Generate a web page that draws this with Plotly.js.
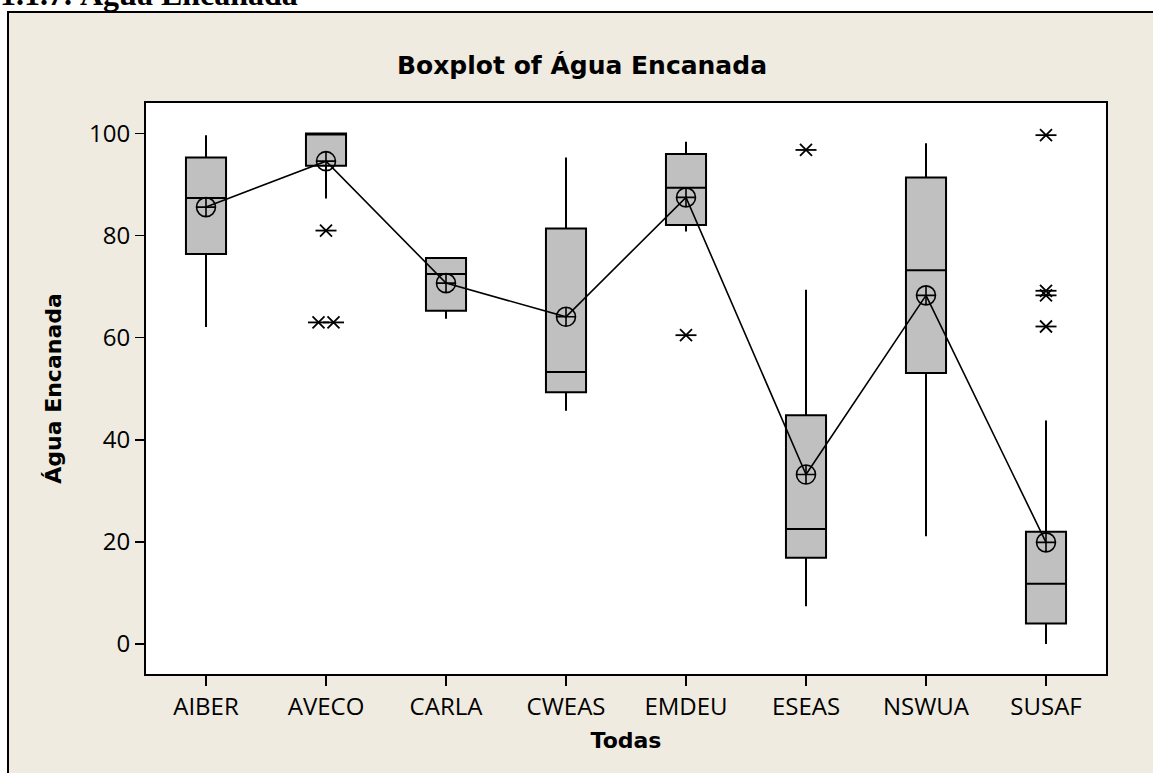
<!DOCTYPE html>
<html>
<head>
<meta charset="utf-8">
<script src="https://cdn.plot.ly/plotly-3.0.1.min.js"></script>
<style>
    html, body { margin: 0; padding: 0; background: #ffffff; overflow: hidden; }
    #header {
        position: absolute; left: 0; top: -22px;
        font: bold 32px "Liberation Serif", "Times New Roman", serif;
        line-height: 32px; white-space: nowrap; color: #000;
    }
    #chart {
        position: absolute; left: 7px; top: 11px;
        width: 1146px; height: 762px;
        border-left: 2px solid #000; border-top: 2px solid #000;
    }
</style>
</head>
<body>
<div id="header">1.1.7. Água Encanada</div>
<div id="chart"></div>
<script>
// Boxplot of Água Encanada (Minitab style)
const categories = ['AIBER', 'AVECO', 'CARLA', 'CWEAS', 'EMDEU', 'ESEAS', 'NSWUA', 'SUSAF'];
const q1 = [76.4, 93.7, 65.3, 49.3, 82.1, 16.9, 53.1, 4.0];
const medians = [87.4, 100, 72.5, 53.3, 89.4, 22.5, 73.2, 11.8];
const q3 = [95.3, 100, 75.6, 81.4, 96.0, 44.8, 91.4, 22.0];
const lowerWhisker = [62.1, 87.3, 63.7, 45.7, 80.8, 7.4, 21.1, 0];
const upperWhisker = [99.7, 100, 75.6, 95.3, 98.4, 69.4, 98.1, 43.8];
const means = [85.6, 94.6, 70.7, 64.1, 87.5, 33.2, 68.3, 19.9];
const outliers = [[], [81.0, 63.0, 63.0], [], [], [60.5], [96.8], [], [99.7, 69.2, 68.3, 62.2]];

const positions = categories.map((_, i) => i);

// outlier points; identical values are set side by side like Minitab does
const outX = [], outY = [];
outliers.forEach((vals, i) => {
    const counts = {};
    vals.forEach(v => { counts[v] = (counts[v] || 0) + 1; });
    const seen = {};
    vals.forEach(v => {
        const n = counts[v];
        const k = seen[v] = (seen[v] === undefined ? 0 : seen[v] + 1);
        outX.push(i + (k - (n - 1) / 2) * 0.125);
        outY.push(v);
    });
});

const boxTrace = {
    type: 'box',
    x: positions,
    q1: q1,
    median: medians,
    q3: q3,
    lowerfence: lowerWhisker,
    upperfence: upperWhisker,
    width: 0.334,
    boxpoints: false,
    fillcolor: '#c0c0c0',
    line: { color: '#000000', width: 2 },
    whiskerwidth: 0,
    hoverinfo: 'skip'
};

const meanTrace = {
    type: 'scatter',
    mode: 'lines+markers',
    x: positions,
    y: means,
    line: { color: '#000000', width: 1.6 },
    marker: {
        symbol: 'circle-cross-open',
        size: 19,
        color: '#000000',
        line: { color: '#000000', width: 1.6 }
    },
    hoverinfo: 'skip'
};

// Minitab's outlier star: an x with a horizontal bar through it
function starPart(symbol, size) {
    return {
        type: 'scatter',
        mode: 'markers',
        x: outX,
        y: outY,
        marker: {
            symbol: symbol,
            size: size,
            color: '#000000',
            line: { color: '#000000', width: 1.8 }
        },
        hoverinfo: 'skip'
    };
}

const layout = {
    width: 1146,
    height: 762,
    margin: { l: 137, r: 49, t: 90, b: 101 },
    paper_bgcolor: '#efebe0',
    plot_bgcolor: '#ffffff',
    showlegend: false,
    title: {
        text: 'Boxplot of Água Encanada',
        font: { family: 'DejaVu Sans', size: 25, color: '#000000', weight: 'bold' },
        x: 0.5, xref: 'container', xanchor: 'center',
        y: 0.932, yref: 'container', yanchor: 'middle'
    },
    xaxis: {
        range: [-0.5, 7.5],
        tickvals: positions,
        ticktext: categories,
        ticks: 'outside', ticklen: 10, tickwidth: 1.5, tickcolor: '#000000',
        showline: true, mirror: true, linecolor: '#000000', linewidth: 2,
        showgrid: false, zeroline: false,
        tickfont: { family: 'Open Sans', size: 24, color: '#000000' },
        title: {
            text: 'Todas',
            font: { family: 'DejaVu Sans', size: 22, color: '#000000', weight: 'bold' },
            standoff: 12
        }
    },
    yaxis: {
        range: [-5.9, 106],
        tickvals: [0, 20, 40, 60, 80, 100],
        ticks: 'outside', ticklen: 9, tickwidth: 1.5, tickcolor: '#000000',
        showline: true, mirror: true, linecolor: '#000000', linewidth: 2,
        showgrid: false, zeroline: false,
        tickfont: { family: 'Open Sans', size: 24, color: '#000000' },
        title: {
            text: 'Água Encanada',
            font: { family: 'DejaVu Sans', size: 22, color: '#000000', weight: 'bold' },
            standoff: 21
        }
    }
};

Plotly.newPlot('chart',
    [boxTrace, meanTrace, starPart('x-thin-open', 12), starPart('line-ew-open', 15)],
    layout, { displayModeBar: false, staticPlot: true });
</script>
</body>
</html>
